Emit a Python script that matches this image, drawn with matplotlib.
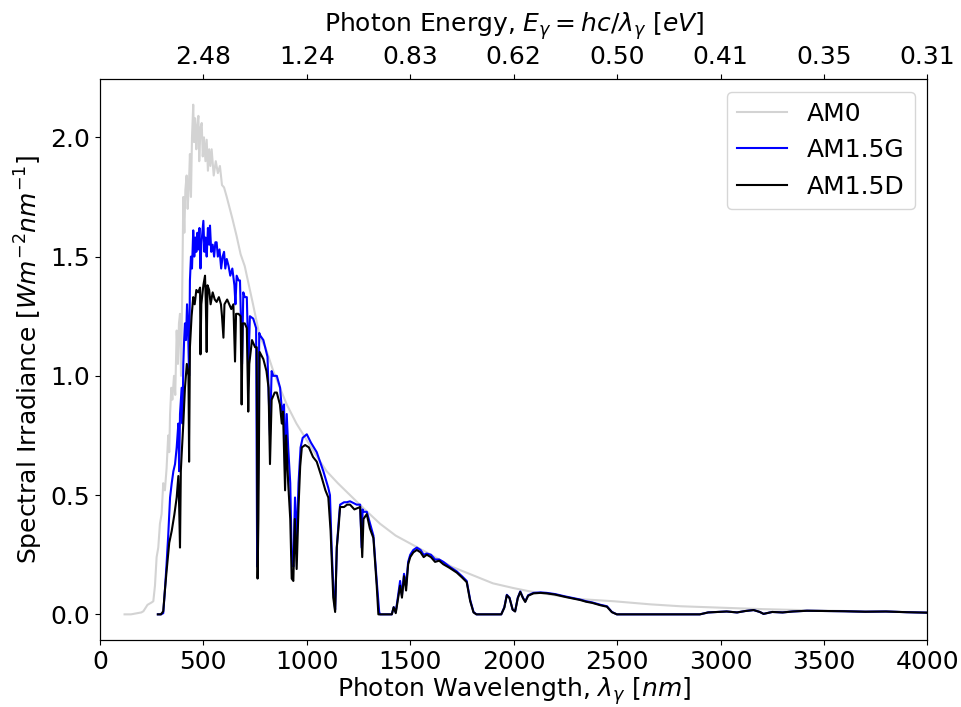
import matplotlib
matplotlib.use("Agg")
import matplotlib.pyplot as plt
import numpy as np

# values (wavelength in nm, irradiance in W m^-2 nm^-1)
am0_wl = [119, 150, 200, 210, 230, 250, 258, 266, 274, 282, 290, 298, 306, 314, 322, 330,
          335, 339, 345, 350, 358, 364, 371, 377, 382, 387, 392, 397, 403, 408, 413, 419,
          424, 430, 435, 440, 445, 451, 455, 460, 466, 471, 476, 480, 486, 492, 497, 503,
          510, 516, 522, 528, 534, 540, 550, 560, 570, 580, 590, 600, 613, 625, 640, 661,
          680, 700, 710, 740, 774, 800, 838, 870, 903, 950, 1000, 1050, 1096, 1150, 1209,
          1280, 1354, 1430, 1515, 1600, 1700, 1757, 1900, 2000, 2080, 2200, 2300, 2483,
          2660, 2805, 3000, 3200, 3386, 3600, 3800, 4000]
am0_val = [0.0, 0.0, 0.008, 0.013, 0.04, 0.05, 0.055, 0.12, 0.24, 0.28, 0.38, 0.42, 0.55,
           0.52, 0.61, 0.75, 0.68, 0.84, 0.95, 0.90, 1.0, 0.92, 1.19, 1.05, 1.22, 1.26,
           1.00, 1.30, 1.75, 1.60, 1.78, 1.84, 1.70, 1.80, 1.93, 1.75, 2.00, 2.137, 1.98,
           2.08, 1.95, 2.05, 2.09, 1.90, 2.04, 2.06, 1.92, 2.00, 1.90, 1.99, 1.86, 1.95,
           1.88, 1.95, 1.84, 1.90, 1.85, 1.88, 1.80, 1.79, 1.75, 1.71, 1.66, 1.585, 1.51,
           1.46, 1.42, 1.30, 1.16, 1.12, 1.02, 0.95, 0.88, 0.80, 0.73, 0.66, 0.60, 0.55,
           0.50, 0.44, 0.38, 0.33, 0.29, 0.25, 0.20, 0.18, 0.13, 0.11, 0.096, 0.08, 0.065,
           0.055, 0.042, 0.034, 0.028, 0.022, 0.018, 0.014, 0.011, 0.009]

am15g_wl = [280, 295, 306, 314, 322, 330, 339, 347, 355, 363, 371, 379, 383, 387, 395, 399,
            403, 407, 411, 416, 421, 426, 431, 435, 440, 445, 451, 456, 461, 466, 471, 476,
            481, 486, 490, 495, 500, 505, 510, 516, 522, 528, 532, 538, 545, 552, 558, 564,
            570, 578, 586, 593, 600, 606, 613, 622, 630, 640, 650, 655, 661, 670, 677, 687,
            693, 700, 710, 718, 725, 741, 755, 760, 765, 770, 774, 790, 810, 822, 830, 838,
            855, 871, 880, 890, 895, 903, 910, 920, 927, 935, 943, 951, 960, 970, 980, 1000,
            1020, 1048, 1080, 1104, 1112, 1120, 1130, 1137, 1145, 1155, 1161, 1180, 1193,
            1209, 1241, 1258, 1265, 1270, 1274, 1290, 1306, 1322, 1338, 1350, 1354, 1411,
            1420, 1430, 1440, 1451, 1460, 1470, 1480, 1490, 1500, 1515, 1532, 1550, 1565,
            1580, 1600, 1620, 1640, 1660, 1690, 1725, 1750, 1773, 1790, 1806, 1820, 1940,
            1955, 1967, 1980, 1995, 2007, 2020, 2032, 2045, 2056, 2070, 2096, 2130, 2160,
            2200, 2250, 2322, 2350, 2380, 2400, 2420, 2451, 2475, 2499, 2900, 2940, 2983,
            3030, 3080, 3120, 3160, 3190, 3208, 3250, 3300, 3350, 3418, 3500, 3600, 3700,
            3800, 3900, 4000]
am15g_val = [0.0, 0.0, 0.005, 0.10, 0.21, 0.33, 0.49, 0.55, 0.60, 0.63, 0.70, 0.80, 0.60,
             0.84, 0.95, 0.80, 1.05, 1.15, 1.22, 1.15, 1.30, 1.20, 1.00, 1.40, 1.50, 1.45,
             1.61, 1.50, 1.58, 1.52, 1.60, 1.53, 1.62, 1.45, 1.55, 1.60, 1.65, 1.52, 1.58,
             1.50, 1.62, 1.55, 1.63, 1.52, 1.55, 1.50, 1.56, 1.56, 1.50, 1.53, 1.45, 1.50,
             1.52, 1.45, 1.49, 1.46, 1.42, 1.45, 1.38, 1.30, 1.42, 1.40, 1.40, 1.05, 1.35,
             1.33, 1.33, 1.05, 1.25, 1.24, 1.20, 0.20, 0.60, 1.18, 1.17, 1.15, 1.08, 0.75,
             1.02, 1.00, 1.00, 0.95, 0.85, 0.88, 0.60, 0.84, 0.70, 0.55, 0.25, 0.20, 0.49,
             0.30, 0.55, 0.70, 0.74, 0.755, 0.72, 0.68, 0.60, 0.53, 0.50, 0.28, 0.08, 0.02,
             0.28, 0.40, 0.46, 0.47, 0.47, 0.474, 0.46, 0.46, 0.28, 0.44, 0.43, 0.43, 0.38,
             0.33, 0.14, 0.01, 0.0, 0.0, 0.03, 0.01, 0.07, 0.14, 0.08, 0.17, 0.12, 0.22,
             0.25, 0.27, 0.28, 0.27, 0.25, 0.255, 0.25, 0.23, 0.23, 0.22, 0.20, 0.18, 0.16,
             0.14, 0.06, 0.01, 0.0, 0.0, 0.03, 0.082, 0.07, 0.02, 0.013, 0.07, 0.096, 0.07,
             0.054, 0.08, 0.09, 0.092, 0.09, 0.085, 0.075, 0.062, 0.055, 0.05, 0.045, 0.04,
             0.034, 0.01, 0.0, 0.0, 0.008, 0.01, 0.012, 0.008, 0.014, 0.018, 0.01, 0.002,
             0.01, 0.008, 0.012, 0.015, 0.014, 0.013, 0.011, 0.012, 0.009, 0.007]

am15d_wl = [280, 295, 306, 314, 322, 335, 347, 360, 371, 379, 383, 387, 391, 395, 403, 411,
            420, 428, 431, 435, 443, 451, 458, 466, 475, 484, 486, 490, 500, 508, 512, 516,
            520, 528, 535, 545, 555, 564, 575, 585, 590, 597, 602, 615, 625, 635, 645, 653,
            658, 670, 680, 685, 690, 700, 710, 717, 722, 735, 750, 758, 762, 766, 772, 790,
            805, 815, 822, 830, 845, 855, 870, 879, 885, 895, 900, 910, 920, 927, 935, 942,
            951, 960, 968, 976, 992, 1010, 1030, 1048, 1070, 1090, 1104, 1115, 1128, 1137,
            1145, 1155, 1161, 1180, 1195, 1209, 1230, 1258, 1268, 1274, 1290, 1305, 1322,
            1338, 1346, 1411, 1420, 1430, 1440, 1451, 1460, 1470, 1480, 1490, 1500, 1515,
            1532, 1550, 1565, 1580, 1600, 1620, 1640, 1660, 1690, 1725, 1750, 1773, 1790,
            1806, 1820, 1940, 1955, 1967, 1980, 1995, 2007, 2020, 2032, 2045, 2056, 2070,
            2096, 2130, 2160, 2200, 2250, 2322, 2350, 2380, 2400, 2420, 2451, 2475, 2499,
            2900, 2940, 2983, 3030, 3080, 3120, 3160, 3190, 3208, 3250, 3300, 3350, 3418,
            3500, 3600, 3700, 3800, 3900, 4000]
am15d_val = [0.0, 0.0, 0.013, 0.10, 0.18, 0.30, 0.35, 0.42, 0.49, 0.58, 0.45, 0.28, 0.60,
             0.67, 0.80, 0.95, 1.05, 1.00, 0.64, 1.12, 1.25, 1.33, 1.30, 1.36, 1.35, 1.37,
             1.09, 1.30, 1.38, 1.42, 1.30, 1.10, 1.38, 1.36, 1.30, 1.35, 1.32, 1.31, 1.33,
             1.30, 1.25, 1.16, 1.30, 1.32, 1.30, 1.28, 1.30, 1.06, 1.26, 1.26, 1.25, 0.88,
             1.22, 1.22, 1.20, 0.85, 1.05, 1.15, 1.12, 1.12, 0.15, 0.40, 1.10, 1.07, 1.02,
             0.95, 0.63, 0.90, 0.93, 0.93, 0.88, 0.80, 0.85, 0.52, 0.75, 0.55, 0.40, 0.15,
             0.14, 0.40, 0.19, 0.45, 0.62, 0.70, 0.71, 0.70, 0.66, 0.64, 0.58, 0.52, 0.49,
             0.35, 0.07, 0.01, 0.28, 0.38, 0.45, 0.45, 0.46, 0.46, 0.44, 0.45, 0.24, 0.40,
             0.42, 0.36, 0.32, 0.12, 0.0, 0.0, 0.03, 0.005, 0.06, 0.12, 0.07, 0.16, 0.10,
             0.21, 0.24, 0.26, 0.27, 0.26, 0.24, 0.25, 0.24, 0.22, 0.225, 0.21, 0.195, 0.175,
             0.155, 0.135, 0.055, 0.008, 0.0, 0.0, 0.028, 0.08, 0.068, 0.02, 0.012, 0.068,
             0.094, 0.068, 0.052, 0.078, 0.088, 0.09, 0.088, 0.083, 0.073, 0.06, 0.053,
             0.048, 0.043, 0.038, 0.032, 0.009, 0.0, 0.0, 0.008, 0.01, 0.012, 0.008, 0.014,
             0.018, 0.01, 0.002, 0.01, 0.008, 0.012, 0.015, 0.014, 0.013, 0.011, 0.012,
             0.009, 0.007]

top_ticks = [500, 1000, 1500, 2000, 2500, 3000, 3500, 4000]

if __name__ == "__main__":
    plt.rcParams['font.size'] = 18

    fig = plt.figure(figsize=(9.61, 7.07), dpi=100)
    ax = fig.add_axes([0.104, 0.095, 0.861, 0.793])

    ax.plot(am0_wl, am0_val, color="lightgray", label="AM0")
    ax.plot(am15g_wl, am15g_val, color="b", label="AM1.5G")
    ax.plot(am15d_wl, am15d_val, color="k", label="AM1.5D")

    ax.set_xlim(0, 4000)
    ax.set_xticks(np.arange(0, 4001, 500))
    ax.set_yticks([0.0, 0.5, 1.0, 1.5, 2.0])
    ax.set_xlabel(r"Photon Wavelength, $\lambda_\gamma$ $[nm]$", labelpad=1)
    ax.set_ylabel(r"Spectral Irradiance $[Wm^{-2}nm^{-1}]$")
    ax.legend(loc="upper right")

    ax2 = ax.twiny()
    ax2.set_xlim(ax.get_xlim())
    ax2.set_xticks(top_ticks)
    ax2.set_xticklabels(["%.2f" % (1239.84 / w) for w in top_ticks])
    ax2.set_xlabel(r"Photon Energy, $E_\gamma = hc/\lambda_\gamma$ $[eV]$", labelpad=10)

    fig.savefig("out.png", dpi=100)
